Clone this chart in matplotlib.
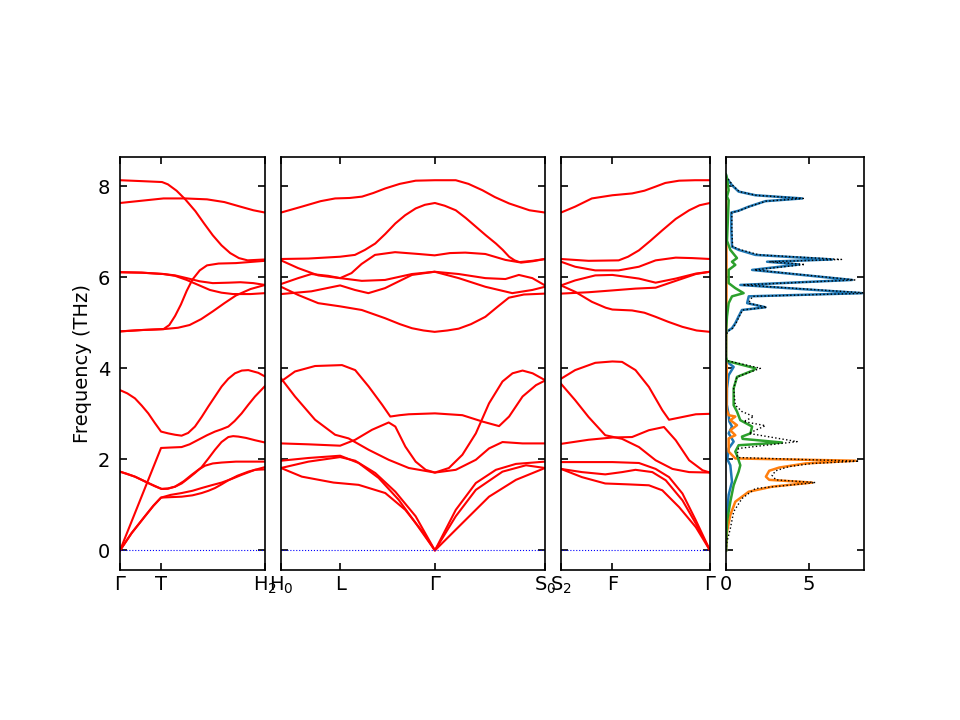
import matplotlib
matplotlib.use('Agg')
import matplotlib.pyplot as plt

# band segments, x is fraction of the segment length, y is frequency (THz)
# segment 1: Gamma - T - H2
seg1_ticks = [0.0, 0.283, 1.0]
seg1_labels = ['$\\Gamma$', 'T', 'H$_2$']
seg1_bands = [
    [(0, 8.13), (0.15, 8.11), (0.29, 8.09), (0.33, 8.04), (0.39, 7.9), (0.45, 7.71), (0.52, 7.45), (0.58, 7.18),
     (0.64, 6.92), (0.70, 6.7), (0.76, 6.53), (0.82, 6.42), (0.88, 6.37), (1.0, 6.39)],
    [(0, 7.63), (0.15, 7.68), (0.3, 7.73), (0.45, 7.73), (0.6, 7.71), (0.72, 7.65), (0.83, 7.55), (0.92, 7.47), (1.0, 7.42)],
    [(0, 6.11), (0.15, 6.10), (0.30, 6.07), (0.38, 6.03), (0.46, 5.94), (0.54, 5.83), (0.62, 5.72), (0.70, 5.66),
     (0.78, 5.63), (0.9, 5.63), (1.0, 5.65)],
    [(0, 6.11), (0.15, 6.10), (0.30, 6.07), (0.38, 6.04), (0.46, 5.98), (0.55, 5.91), (0.64, 5.87), (0.75, 5.88),
     (0.83, 5.89), (0.92, 5.87), (1.0, 5.83)],
    [(0, 4.81), (0.15, 4.84), (0.30, 4.86), (0.34, 4.95), (0.38, 5.15), (0.42, 5.4), (0.46, 5.7), (0.50, 5.95),
     (0.55, 6.15), (0.60, 6.26), (0.68, 6.30), (0.80, 6.31), (1.0, 6.36)],
    [(0, 4.81), (0.15, 4.84), (0.30, 4.86), (0.40, 4.89), (0.48, 4.95), (0.56, 5.08), (0.64, 5.25), (0.72, 5.43),
     (0.80, 5.6), (0.9, 5.74), (1.0, 5.83)],
    [(0, 3.52), (0.05, 3.45), (0.103, 3.34), (0.15, 3.18), (0.195, 3.01), (0.24, 2.80), (0.283, 2.61), (0.333, 2.57),
     (0.38, 2.54), (0.425, 2.52), (0.47, 2.58), (0.517, 2.72), (0.563, 2.93), (0.609, 3.16), (0.655, 3.38),
     (0.701, 3.60), (0.747, 3.77), (0.793, 3.89), (0.84, 3.95), (0.885, 3.96), (0.954, 3.90), (1.0, 3.82)],
    [(0, 0.0), (0.283, 2.25), (0.35, 2.26), (0.425, 2.27), (0.48, 2.33), (0.54, 2.43), (0.60, 2.53), (0.655, 2.61),
     (0.70, 2.66), (0.747, 2.72), (0.79, 2.84), (0.839, 3.01), (0.885, 3.2), (0.931, 3.38), (1.0, 3.61)],
    [(0, 1.73), (0.05, 1.68), (0.103, 1.62), (0.15, 1.55), (0.195, 1.48), (0.24, 1.41), (0.287, 1.35), (0.33, 1.36),
     (0.38, 1.40), (0.425, 1.47), (0.47, 1.58), (0.517, 1.70), (0.563, 1.83), (0.61, 2.02), (0.655, 2.21),
     (0.70, 2.38), (0.747, 2.49), (0.78, 2.51), (0.816, 2.50), (0.87, 2.47), (0.931, 2.42), (1.0, 2.37)],
    [(0, 1.73), (0.103, 1.62), (0.195, 1.48), (0.287, 1.35), (0.33, 1.355), (0.379, 1.40), (0.44, 1.52),
     (0.494, 1.66), (0.54, 1.77), (0.586, 1.86), (0.64, 1.91), (0.701, 1.93), (0.8, 1.95), (1.0, 1.95)],
    [(0, 0.0), (0.08, 0.38), (0.172, 0.75), (0.23, 0.98), (0.283, 1.16), (0.35, 1.22), (0.425, 1.26), (0.5, 1.31),
     (0.563, 1.37), (0.63, 1.43), (0.701, 1.49), (0.77, 1.57), (0.839, 1.66), (0.931, 1.77), (1.0, 1.78)],
    [(0, 0.0), (0.08, 0.38), (0.172, 0.75), (0.23, 0.98), (0.283, 1.16), (0.35, 1.17), (0.425, 1.18), (0.5, 1.21),
     (0.563, 1.26), (0.61, 1.31), (0.655, 1.37), (0.70, 1.45), (0.747, 1.54), (0.81, 1.64), (0.885, 1.73), (1.0, 1.83)],
]

# segment 2: H0 - L - Gamma - S0
seg2_ticks = [0.0, 0.224, 0.583, 1.0]
seg2_labels = ['H$_0$', 'L', '$\\Gamma$', 'S$_0$']
seg2_bands = [
    [(0, 7.42), (0.079, 7.55), (0.15, 7.67), (0.205, 7.73), (0.26, 7.74), (0.307, 7.77), (0.35, 7.85), (0.395, 7.95),
     (0.45, 8.05), (0.51, 8.12), (0.583, 8.13), (0.662, 8.13), (0.71, 8.05), (0.763, 7.91), (0.81, 7.76),
     (0.864, 7.62), (0.941, 7.47), (1.0, 7.42)],
    [(0, 6.40), (0.104, 6.41), (0.224, 6.45), (0.28, 6.49), (0.318, 6.60), (0.357, 6.74), (0.395, 6.95), (0.433, 7.18),
     (0.47, 7.36), (0.51, 7.51), (0.545, 7.59), (0.583, 7.63), (0.62, 7.57), (0.662, 7.47), (0.70, 7.30),
     (0.738, 7.11), (0.776, 6.92), (0.814, 6.74), (0.84, 6.6), (0.864, 6.45), (0.885, 6.37), (0.909, 6.32),
     (0.953, 6.35), (1.0, 6.40)],
    [(0, 6.37), (0.065, 6.20), (0.141, 6.04), (0.224, 5.98), (0.267, 6.09), (0.305, 6.29), (0.356, 6.49),
     (0.432, 6.55), (0.521, 6.51), (0.582, 6.48), (0.64, 6.53), (0.698, 6.54), (0.774, 6.51), (0.85, 6.38),
     (0.901, 6.33), (0.952, 6.36), (1.0, 6.40)],
    [(0, 5.85), (0.065, 5.98), (0.115, 6.07), (0.179, 6.03), (0.224, 5.98), (0.306, 5.92), (0.394, 5.94),
     (0.496, 6.07), (0.582, 6.12), (0.673, 6.07), (0.774, 5.98), (0.85, 5.96), (0.901, 6.05), (0.952, 5.98), (1.0, 5.82)],
    [(0, 5.63), (0.115, 5.69), (0.224, 5.82), (0.28, 5.72), (0.331, 5.65), (0.394, 5.76), (0.45, 5.92), (0.496, 6.05),
     (0.582, 6.12), (0.673, 5.98), (0.774, 5.79), (0.876, 5.65), (0.952, 5.72), (1.0, 5.79)],
    [(0, 5.79), (0.065, 5.61), (0.141, 5.43), (0.224, 5.36), (0.306, 5.28), (0.394, 5.10), (0.45, 4.97), (0.496, 4.88),
     (0.54, 4.83), (0.582, 4.80), (0.63, 4.83), (0.673, 4.87), (0.72, 4.97), (0.774, 5.13), (0.82, 5.35),
     (0.863, 5.55), (0.92, 5.62), (1.0, 5.64)],
    [(0, 3.71), (0.053, 3.93), (0.129, 4.05), (0.231, 4.07), (0.281, 3.96), (0.332, 3.60), (0.383, 3.20),
     (0.414, 2.94), (0.45, 2.97), (0.484, 2.99), (0.583, 3.01), (0.687, 2.97), (0.763, 2.83), (0.826, 2.73),
     (0.864, 2.94), (0.915, 3.38), (0.966, 3.63), (1.0, 3.73)],
    [(0, 3.78), (0.053, 3.38), (0.129, 2.87), (0.205, 2.54), (0.256, 2.46), (0.332, 2.21), (0.408, 1.99),
     (0.484, 1.81), (0.583, 1.71), (0.662, 1.77), (0.738, 1.99), (0.788, 2.24), (0.839, 2.38), (0.915, 2.35), (1.0, 2.35)],
    [(0, 2.35), (0.104, 2.33), (0.224, 2.30), (0.281, 2.43), (0.345, 2.65), (0.408, 2.81), (0.433, 2.72),
     (0.471, 2.28), (0.51, 1.95), (0.548, 1.77), (0.583, 1.71), (0.636, 1.81), (0.687, 2.10), (0.738, 2.57),
     (0.788, 3.23), (0.839, 3.71), (0.877, 3.89), (0.915, 3.95), (0.953, 3.89), (1.0, 3.74)],
    [(0, 1.97), (0.104, 2.03), (0.224, 2.08), (0.294, 1.92), (0.37, 1.59), (0.446, 1.11), (0.51, 0.60), (0.583, 0.0),
     (0.662, 0.89), (0.738, 1.48), (0.814, 1.77), (0.89, 1.90), (1.0, 1.95)],
    [(0, 1.81), (0.104, 1.95), (0.224, 2.05), (0.281, 1.97), (0.357, 1.70), (0.433, 1.29), (0.51, 0.75), (0.583, 0.0),
     (0.662, 0.75), (0.738, 1.33), (0.839, 1.73), (0.928, 1.87), (1.0, 1.81)],
    [(0, 1.81), (0.079, 1.62), (0.199, 1.49), (0.294, 1.44), (0.395, 1.26), (0.471, 0.89), (0.535, 0.42), (0.583, 0.0),
     (0.687, 0.60), (0.788, 1.18), (0.89, 1.55), (1.0, 1.81)],
]

# segment 3: S2 - F - Gamma
seg3_ticks = [0.0, 0.345, 1.0]
seg3_labels = ['S$_2$', 'F', '$\\Gamma$']
seg3_bands = [
    [(0, 7.42), (0.095, 7.55), (0.207, 7.73), (0.345, 7.80), (0.477, 7.84), (0.56, 7.9), (0.635, 7.99), (0.70, 8.07),
     (0.793, 8.12), (0.9, 8.13), (1.0, 8.13)],
    [(0, 6.40), (0.185, 6.36), (0.387, 6.37), (0.45, 6.45), (0.523, 6.59), (0.60, 6.8), (0.68, 7.03), (0.77, 7.28),
     (0.86, 7.47), (0.93, 7.58), (1.0, 7.63)],
    [(0, 6.34), (0.095, 6.23), (0.23, 6.15), (0.387, 6.15), (0.523, 6.23), (0.635, 6.37), (0.77, 6.43), (0.88, 6.42), (1.0, 6.40)],
    [(0, 5.82), (0.095, 5.93), (0.23, 6.04), (0.345, 6.05), (0.523, 5.97), (0.635, 5.88), (0.77, 5.97), (0.905, 6.08), (1.0, 6.12)],
    [(0, 5.64), (0.185, 5.67), (0.345, 5.71), (0.5, 5.75), (0.635, 5.77), (0.77, 5.92), (0.905, 6.07), (1.0, 6.12)],
    [(0, 5.82), (0.095, 5.68), (0.207, 5.46), (0.30, 5.33), (0.345, 5.29), (0.477, 5.27), (0.56, 5.22), (0.635, 5.13),
     (0.72, 5.02), (0.815, 4.91), (0.91, 4.83), (1.0, 4.80)],
    [(0, 3.77), (0.095, 3.96), (0.23, 4.12), (0.345, 4.15), (0.41, 4.14), (0.5, 3.96), (0.59, 3.59), (0.68, 3.08),
     (0.725, 2.87), (0.815, 2.93), (0.905, 2.99), (1.0, 3.00)],
    [(0, 3.66), (0.095, 3.30), (0.185, 2.93), (0.297, 2.53), (0.41, 2.45), (0.523, 2.27), (0.635, 1.98), (0.748, 1.79),
     (0.86, 1.72), (1.0, 1.71)],
    [(0, 2.34), (0.185, 2.43), (0.345, 2.48), (0.477, 2.49), (0.59, 2.64), (0.691, 2.71), (0.77, 2.42), (0.86, 1.98),
     (0.95, 1.76), (1.0, 1.71)],
    [(0, 1.94), (0.345, 1.94), (0.523, 1.92), (0.635, 1.79), (0.725, 1.61), (0.815, 1.25), (0.905, 0.66), (1.0, 0.0)],
    [(0, 1.79), (0.14, 1.72), (0.297, 1.67), (0.41, 1.72), (0.5, 1.77), (0.613, 1.72), (0.703, 1.54), (0.815, 1.10),
     (0.905, 0.59), (1.0, 0.0)],
    [(0, 1.79), (0.14, 1.61), (0.297, 1.47), (0.455, 1.45), (0.59, 1.43), (0.68, 1.32), (0.793, 0.95), (0.905, 0.51), (1.0, 0.0)],
]

# density of states: (frequency, dos) pairs
dos_blue = [(0, 0), (0.78, 0.06), (1.22, 0.16), (1.51, 0.36), (1.87, 0.26), (2.0, 0.08), (2.24, 0.16), (2.39, 0.46),
            (2.57, 0.16), (2.72, 0.36), (2.83, 0.2), (2.97, 0.16), (3.2, 0.05), (3.56, 0.06), (3.85, 0.16),
            (4.03, 0.46), (4.14, 0.06), (4.2, 0), (4.75, 0), (4.81, 0.06), (4.88, 0.36), (4.99, 0.56), (5.14, 0.76),
            (5.28, 0.96), (5.34, 2.37), (5.43, 1.27), (5.58, 1.37), (5.65, 8.2), (5.83, 0.86), (5.94, 7.59),
            (6.16, 1.57), (6.28, 4.4), (6.34, 2.47), (6.39, 6.39), (6.49, 1.77), (6.60, 0.76), (6.67, 0.36),
            (7.04, 0.32), (7.42, 0.32), (7.46, 0.76), (7.55, 1.37), (7.67, 2.37), (7.73, 4.58), (7.80, 1.77),
            (7.88, 0.76), (8.02, 0.36), (8.17, 0.06), (8.25, 0)]
dos_orange = [(0, 0), (0.41, 0.06), (0.78, 0.26), (1.07, 0.56), (1.29, 1.37), (1.40, 2.77), (1.49, 5.18),
              (1.55, 2.6), (1.62, 2.4), (1.75, 2.6), (1.82, 3.2), (1.91, 4.78), (1.97, 7.8), (2.02, 0.56),
              (2.17, 0.16), (2.46, 0.16), (2.53, 0.56), (2.64, 0.26), (2.75, 0.66), (2.86, 0.26), (2.94, 0.56),
              (2.97, 0.16), (3.1, 0.03), (4.0, 0.05), (4.2, 0), (5.6, 0.03), (6.4, 0.03), (8.2, 0)]
dos_green = [(0, 0), (0.63, 0.06), (1.07, 0.26), (1.43, 0.46), (1.73, 0.76), (1.87, 0.86), (2.09, 0.66),
             (2.17, 0.56), (2.31, 0.76), (2.37, 3.37), (2.45, 1.0), (2.50, 0.96), (2.57, 1.47), (2.72, 1.57),
             (2.86, 0.86), (3.05, 0.66), (3.19, 0.46), (3.56, 0.46), (3.81, 0.66), (3.96, 1.67), (4.0, 1.77),
             (4.16, 0.06), (4.25, 0), (4.8, 0), (5.14, 0.06), (5.43, 0.16), (5.58, 0.36), (5.65, 1.06),
             (5.76, 0.56), (5.87, 0.16), (6.16, 0.16), (6.27, 0.56), (6.34, 0.36), (6.42, 0.66), (6.60, 0.26),
             (6.8, 0.06), (7.69, 0.16), (7.77, 0.06), (7.91, 0.16), (8.17, 0.06), (8.25, 0)]
dos_total = [(0, 0), (0.19, 0.06), (0.48, 0.26), (0.85, 0.46), (1.14, 0.96), (1.36, 1.77), (1.49, 5.38), (1.55, 3.0),
             (1.65, 2.77), (1.75, 3.0), (1.84, 3.78), (1.91, 5.2), (1.96, 8.0), (2.04, 0.7), (2.09, 0.66),
             (2.24, 0.76), (2.39, 4.28), (2.57, 1.37), (2.74, 2.37), (2.83, 1.06), (2.94, 1.67), (3.05, 0.96),
             (3.19, 0.56), (3.56, 0.46), (3.81, 0.66), (4.0, 2.07), (4.16, 0.16), (4.2, 0), (4.7, 0), (4.81, 0.1),
             (4.88, 0.4), (4.99, 0.6), (5.14, 0.8), (5.28, 1.0), (5.34, 2.45), (5.43, 1.35), (5.58, 1.6),
             (5.65, 8.6), (5.83, 1.0), (5.94, 7.75), (6.16, 1.7), (6.28, 4.75), (6.34, 2.6), (6.39, 6.95),
             (6.49, 2.0), (6.60, 0.9), (6.67, 0.4), (7.04, 0.35), (7.42, 0.35), (7.46, 0.8), (7.55, 1.4),
             (7.67, 2.4), (7.73, 4.65), (7.80, 1.8), (7.88, 0.8), (8.02, 0.4), (8.17, 0.1), (8.2, 0)]

fmin, fmax = -0.43, 8.64

plt.rcParams['font.size'] = 14

fig = plt.figure(figsize=(9.6, 7.2), dpi=100)
bottom, height = 1 - 570 / 720., 413 / 720.
ax1 = fig.add_axes([120 / 960., bottom, 145 / 960., height])
ax2 = fig.add_axes([281 / 960., bottom, 264 / 960., height])
ax3 = fig.add_axes([561 / 960., bottom, 149 / 960., height])
ax4 = fig.add_axes([726 / 960., bottom, 138 / 960., height])

for ax, bands, ticks, labels in [(ax1, seg1_bands, seg1_ticks, seg1_labels),
                                 (ax2, seg2_bands, seg2_ticks, seg2_labels),
                                 (ax3, seg3_bands, seg3_ticks, seg3_labels)]:
    for b in bands:
        xs, ys = zip(*b)
        ax.plot(xs, ys, color='r', lw=1.5)
    ax.plot([0, 1], [0, 0], color='b', ls=':', lw=0.8)
    ax.set_xlim(0, 1)
    ax.set_ylim(fmin, fmax)
    ax.set_xticks(ticks)
    ax.set_xticklabels(labels)
    ax.set_yticks([0, 2, 4, 6, 8])
    if ax is not ax1:
        ax.set_yticklabels([])

ax1.set_ylabel('Frequency (THz)')

for d, c in [(dos_blue, 'tab:blue'), (dos_orange, 'tab:orange'), (dos_green, 'tab:green')]:
    fs, vs = zip(*d)
    ax4.plot(vs, fs, color=c, lw=1.8)
fs, vs = zip(*dos_total)
ax4.plot(vs, fs, color='k', ls=':', lw=1.0)
ax4.set_xlim(0, 8.3)
ax4.set_ylim(fmin, fmax)
ax4.set_xticks([0, 5])
ax4.set_yticks([0, 2, 4, 6, 8])
ax4.set_yticklabels([])

for ax in [ax1, ax2, ax3, ax4]:
    ax.tick_params(direction='in', top=True, right=True, length=5, width=1.2)
    ax.tick_params(axis='y', pad=7)
    for s in ax.spines.values():
        s.set_linewidth(1.2)

plt.savefig('out.png')
